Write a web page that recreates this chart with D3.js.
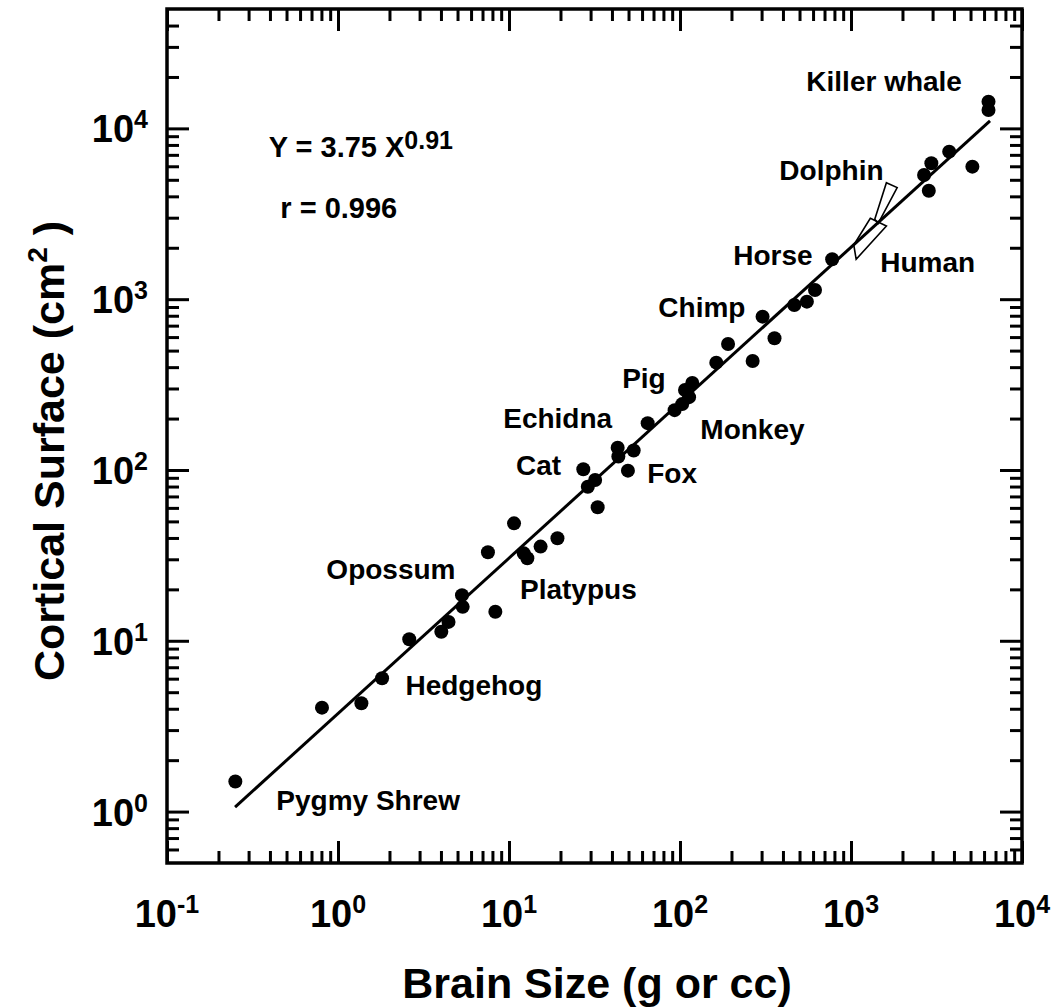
<!DOCTYPE html>
<html>
<head>
<meta charset="utf-8">
<title>Cortical surface vs brain size</title>
<style>
  body { margin: 0; background: #fff; }
  text { font-family: "Liberation Sans", Arial, sans-serif; font-weight: bold; fill: #000; }
  .frame { fill: none; stroke: #000; stroke-width: 3.5; }
  .tick line { stroke: #000; stroke-width: 3; }
  .dot { fill: #000; }
  .fit { stroke: #000; stroke-width: 3; fill: none; }
  .range { fill: none; stroke: #000; stroke-width: 1.6; }
</style>
</head>
<body>
<script src="https://d3js.org/d3.v7.min.js"></script>
<script>
// brain size (g or cc) and cortical surface (cm2)
const brainSize = [0.251, 0.806, 1.37, 1.81, 2.61, 4.02, 4.43, 5.36, 5.31, 7.53,
  8.32, 10.7, 12.2, 12.8, 15.3, 19.2, 27.2, 28.9, 31.9, 33.0,
  43.2, 43.6, 53.6, 49.6, 64.7, 93, 103, 113, 107, 118,
  163, 191, 266, 304, 357, 466, 552, 616, 776,
  2675, 2851, 2950, 3752, 5126, 6370, 6370];
const cortex = [1.50, 4.06, 4.31, 6.03, 10.2, 11.3, 12.9, 15.8, 18.5, 33.0,
  14.8, 48.7, 32.5, 30.4, 35.6, 39.8, 101, 79.8, 87.4, 60.5,
  135, 120, 130, 99.1, 188, 224, 243, 267, 294, 323,
  425, 547, 435, 790, 590, 925, 967, 1132, 1713,
  5335, 4315, 6250, 7310, 5970, 12820, 14330];

// fit: Y = a X^b
const fitA = 3.75;
const fitB = 0.91;
const fitR = 0.996;
const fitRange = [0.25, 6500];

// range outlines for dolphin and human (brain size, cortex)
const dolphinOutline = [[1611, 4809], [1862, 4498], [1442, 2782], [1377, 2938]];
const humanOutline = [[1297, 2977], [1611, 2683], [1072, 1713], [1038, 2076]];

// species names, anchored at (brain size, cortex) of the text start
const speciesNames = ["Killer whale", "Dolphin", "Horse", "Human", "Chimp", "Pig", "Echidna",
  "Monkey", "Cat", "Fox", "Platypus", "Opossum", "Hedgehog", "Pygmy Shrew"];
const nameX = [548, 381, 205, 1483, 74.7, 45.9, 9.25, 131.5, 11.0, 64.3, 11.6, 0.855, 2.48, 0.436];
const nameY = [16560, 4988, 1585, 1443, 787, 302, 176, 152, 93.5, 84.0, 17.6, 23.0, 4.82, 1.02];

const xMajor = [0.1, 1, 10, 100, 1000, 10000];
const xExp = ["-1", "0", "1", "2", "3", "4"];
const yMajor = [1, 10, 100, 1000, 10000];
const yExp = ["0", "1", "2", "3", "4"];

const width = 1058, height = 1008;
const margin = {left: 167, right: 36, top: 9, bottom: 145};

const svg = d3.select("body").append("svg")
  .attr("width", width)
  .attr("height", height);

const x = d3.scaleLog().domain([0.1, 10000]).range([margin.left, width - margin.right]);
const y = d3.scaleLog().domain([0.5, 50000]).range([height - margin.bottom, margin.top]);

const x0 = x.range()[0], x1 = x.range()[1];
const y0 = y.range()[0], y1 = y.range()[1];

// minor ticks 2..9 per decade inside the domain
function minors(scale) {
  const [lo, hi] = scale.domain();
  const out = [];
  for (let k = -2; k <= 5; k++) {
    for (let m = 2; m <= 9; m++) {
      const v = m * Math.pow(10, k);
      if (v > lo * 1.0001 && v < hi * 0.9999) out.push(v);
    }
  }
  return out;
}

const majorLen = 22, minorLen = 12;

function addAxis(axisFn, scale, values, len, transform) {
  svg.append("g")
    .attr("transform", transform)
    .call(axisFn(scale).tickValues(values).tickSize(-len).tickFormat(""))
    .call(g => g.select(".domain").remove());
}

addAxis(d3.axisBottom, x, xMajor, majorLen, `translate(0,${y0})`);
addAxis(d3.axisBottom, x, minors(x), minorLen, `translate(0,${y0})`);
addAxis(d3.axisTop, x, xMajor, majorLen, `translate(0,${y1})`);
addAxis(d3.axisTop, x, minors(x), minorLen, `translate(0,${y1})`);
addAxis(d3.axisLeft, y, yMajor, majorLen, `translate(${x0},0)`);
addAxis(d3.axisLeft, y, minors(y), minorLen, `translate(${x0},0)`);
addAxis(d3.axisRight, y, yMajor, majorLen, `translate(${x1},0)`);
addAxis(d3.axisRight, y, minors(y), minorLen, `translate(${x1},0)`);

svg.append("rect")
  .attr("class", "frame")
  .attr("x", x0).attr("y", y1)
  .attr("width", x1 - x0).attr("height", y0 - y1);

// tick labels
const xl = svg.selectAll(".xlab").data(xMajor).enter().append("text")
  .attr("class", "xlab")
  .attr("x", d => x(d))
  .attr("y", 927)
  .attr("text-anchor", "middle")
  .style("font-size", "38px");
xl.append("tspan").text("10");
xl.append("tspan").attr("dy", -14).style("font-size", "25px").text((d, i) => xExp[i]);

const yl = svg.selectAll(".ylab").data(yMajor).enter().append("text")
  .attr("class", "ylab")
  .attr("x", 148)
  .attr("y", d => y(d) + 14)
  .attr("text-anchor", "end")
  .style("font-size", "38px");
yl.append("tspan").text("10");
yl.append("tspan").attr("dy", -14).style("font-size", "25px").text((d, i) => yExp[i]);

// axis titles
svg.append("text")
  .attr("x", 597).attr("y", 998)
  .attr("text-anchor", "middle")
  .style("font-size", "43px")
  .text("Brain Size (g or cc)");

const yt = svg.append("text")
  .attr("transform", "translate(64,451) rotate(-90)")
  .attr("text-anchor", "middle")
  .style("font-size", "43px");
yt.append("tspan").text("Cortical Surface (cm");
yt.append("tspan").attr("dy", -17).style("font-size", "28px").text("2");
yt.append("tspan").attr("dy", 17).text(" )");

// fit line
const line = d3.line().x(d => x(d[0])).y(d => y(d[1]));
svg.append("path")
  .attr("class", "fit")
  .attr("d", line(fitRange.map(v => [v, fitA * Math.pow(v, fitB)])));

// dolphin / human range outlines
svg.selectAll(".range").data([dolphinOutline, humanOutline]).enter().append("path")
  .attr("class", "range")
  .attr("d", d => line(d) + "Z");

// points
svg.selectAll(".dot").data(brainSize).enter().append("circle")
  .attr("class", "dot")
  .attr("cx", d => x(d))
  .attr("cy", (d, i) => y(cortex[i]))
  .attr("r", 7);

// species labels
svg.selectAll(".name").data(speciesNames).enter().append("text")
  .attr("class", "name")
  .attr("x", (d, i) => x(nameX[i]))
  .attr("y", (d, i) => y(nameY[i]))
  .style("font-size", "28px")
  .text(d => d);

// equation text
const eq = svg.append("text")
  .attr("x", x(0.393)).attr("y", y(6800))
  .style("font-size", "29px");
eq.append("tspan").text(`Y = ${fitA} X`);
eq.append("tspan").attr("dy", -8).style("font-size", "25px").text(fitB);

svg.append("text")
  .attr("x", x(0.46)).attr("y", y(2987))
  .style("font-size", "29px")
  .text(`r = ${fitR}`);
</script>
</body>
</html>
